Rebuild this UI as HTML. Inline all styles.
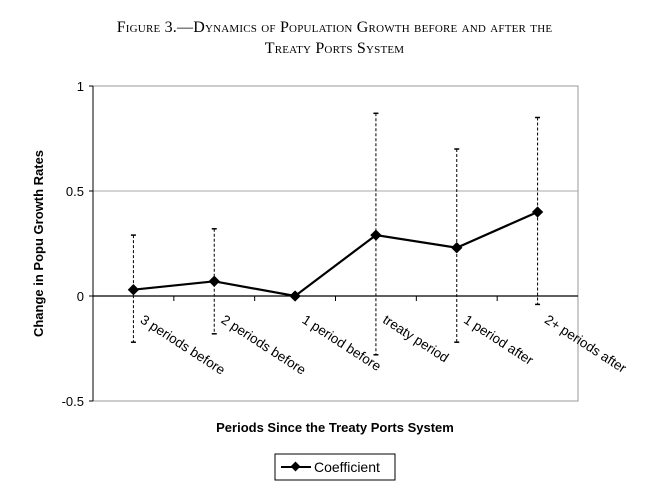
<!DOCTYPE html>
<html><head><meta charset="utf-8"><style>
body{margin:0;background:#fff;width:653px;height:496px;overflow:hidden}
.t{font-family:"Liberation Serif",serif;text-align:center;position:absolute;left:8px;width:653px;font-size:16px;font-variant:small-caps;letter-spacing:0.2px}
svg{position:absolute;left:0;top:0}
text{font-family:"Liberation Sans",sans-serif}
</style></head><body>
<div class="t" style="top:17px;line-height:21px">Figure 3.—Dynamics of Population Growth before and after the<br>Treaty Ports System</div>
<svg width="653" height="496">
<g id="g"></g>
</svg>
<script>
const categories=["3 periods before","2 periods before","1 period before","treaty period","1 period after","2+ periods after"];
const coef=[0.03,0.07,0.0,0.29,0.23,0.40];
const upper=[0.29,0.32,null,0.87,0.70,0.85];
const lower=[-0.22,-0.18,null,-0.28,-0.22,-0.04];
const yTicks=[1,0.5,0,-0.5];
const yLabels=["1","0.5","0","-0.5"];
const L=93,R=578,T=86,B=401;
const y=v=>T+(1-v)/1.5*(B-T);
const bw=(R-L)/categories.length;
const x=i=>L+bw*(i+0.5);
const g=document.getElementById('g');
const NS='http://www.w3.org/2000/svg';
function mk(t,a,p){const e=document.createElementNS(NS,t);for(const k in a)e.setAttribute(k,a[k]);(p||g).appendChild(e);return e;}
let e;
e=mk('rect',{x:L,y:T,width:R-L,height:B-T,fill:'none',stroke:'#999','stroke-width':1});


yTicks.forEach((v,i)=>{
 if(v===0.5){e=mk('line',{x1:L,x2:R,y1:y(v),y2:y(v),stroke:'#aaa'});
 
 }
 e=mk('line',{x1:L-4,x2:L,y1:y(v),y2:y(v),stroke:'#000'});
 
 
 e=mk('text',{x:L-9,y:y(v)+5,'text-anchor':'end','font-size':13});e.textContent=yLabels[i];
 
 
});
e=mk('line',{x1:L,x2:L,y1:T,y2:B,stroke:'#000'});


e=mk('line',{x1:L,x2:R,y1:y(0),y2:y(0),stroke:'#000','stroke-width':1.3});


for(let i=1;i<categories.length;i++){
 e=mk('line',{x1:L+bw*i,x2:L+bw*i,y1:y(0),y2:y(0)+5,stroke:'#000'});
 
 
}
categories.forEach((c,i)=>{
 if(upper[i]!==null){
  e=mk('line',{x1:x(i),x2:x(i),y1:y(upper[i]),y2:y(lower[i]),stroke:'#000','stroke-dasharray':'3,2'});
  
  
  [upper[i],lower[i]].forEach(v=>{e=mk('line',{x1:x(i)-2.5,x2:x(i)+2.5,y1:y(v),y2:y(v),stroke:'#000','stroke-width':1.5});
  
  });
 }
 e=mk('text',{x:0,y:0,'font-size':13.5,transform:`translate(${x(i)+6},${y(0)+26}) rotate(33)`});e.textContent=c;
 
 
});
e=mk('polyline',{points:coef.map((v,i)=>x(i)+','+y(v)).join(' '),fill:'none',stroke:'#000','stroke-width':2.2});


coef.forEach((v,i)=>{
 e=mk('rect',{x:x(i)-4,y:y(v)-4,width:8,height:8,fill:'#000',transform:`rotate(45 ${x(i)} ${y(v)})`});
 
 
});
e=mk('text',{x:0,y:0,'font-size':13,'font-weight':'bold','text-anchor':'middle',transform:`translate(43,${(T+B)/2}) rotate(-90)`});e.textContent='Change in Popu Growth Rates';


e=mk('text',{x:335,y:432,'font-size':13,'font-weight':'bold','text-anchor':'middle'});e.textContent='Periods Since the Treaty Ports System';


const lg=mk('g',{});


mk('rect',{x:275,y:454,width:120,height:26,fill:'#fff',stroke:'#000'},lg);
mk('line',{x1:281,x2:311,y1:467,y2:467,stroke:'#000','stroke-width':2},lg);
mk('rect',{x:292,y:463,width:7,height:7,fill:'#000',transform:'rotate(45 295.5 466.5)'},lg);
e=mk('text',{x:314,y:472,'font-size':14},lg);e.textContent='Coefficient';


</script>
</body></html>
